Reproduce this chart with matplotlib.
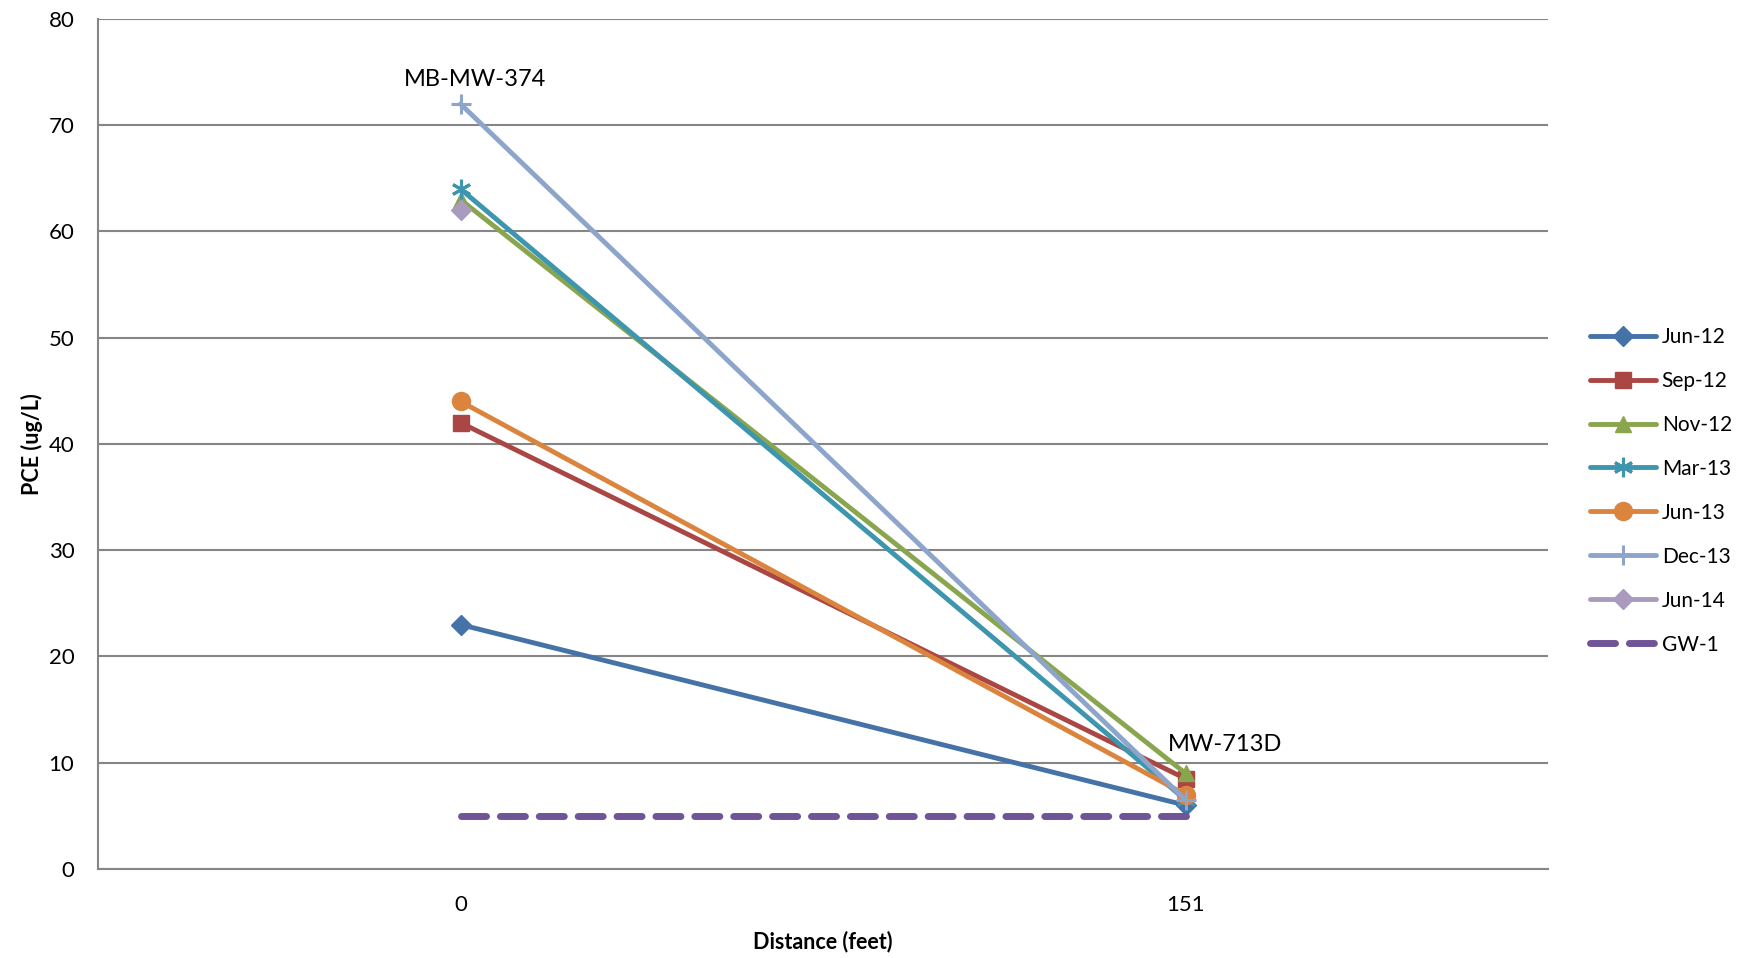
import numpy as np
import matplotlib
matplotlib.use("Agg")
import matplotlib.pyplot as plt

plt.rcParams["font.family"] = ["Lato", "DejaVu Sans"]

#data
distance_labels = ["0", "151"]
series_names = ["Jun-12", "Sep-12", "Nov-12", "Mar-13", "Jun-13", "Dec-13", "Jun-14"]
series_values = [
    [23, 6],
    [42, 8.5],
    [63, 9],
    [64, 6.5],
    [44, 7],
    [72, 6.5],
    [62, np.nan],  # only sampled at MB-MW-374
]
gw1_values = [5, 5]
well_labels = ["MB-MW-374", "MW-713D"]

#styles
colors = ["#4572A7", "#AA4643", "#89A54E", "#3D96AE", "#DB843D", "#8EA5CB", "#A99BBD"]
markers = ["D", "s", "^", (6, 2, 0), "o", "+", "D"]
msizes = [10, 12, 12, 14, 13, 15, 10]
gw_color = "#6F5497"

fig = plt.figure(figsize=(17.43, 9.58), dpi=100)
ax = fig.add_axes([0.0562, 0.0929, 0.8320, 0.8873])

x = np.arange(len(distance_labels))

for name, vals, c, m, ms in zip(series_names, series_values, colors, markers, msizes):
    mew = 2.2 if m in ((6, 2, 0), "+") else 1
    ax.plot(x, vals, color=c, linewidth=3.5, marker=m, markersize=ms,
            markeredgewidth=mew, markerfacecolor=c, markeredgecolor=c,
            solid_capstyle="round", label=name, zorder=3)

ax.plot(x, gw1_values, color=gw_color, linewidth=5, linestyle=(0, (3.6, 2.0)),
        dash_capstyle="round", label="GW-1", zorder=3)

#well labels (Excel data labels)
ax.text(x[0] + 0.02, 74.3, well_labels[0], fontsize=17, ha="center", va="center")
ax.text(x[1] + 0.055, 11.7, well_labels[1], fontsize=17, ha="center", va="center")

ax.set_xlim(-0.5, 1.5)
ax.set_ylim(0, 80)
ax.set_xticks(x)
ax.set_xticklabels(distance_labels)
ax.set_yticks(np.arange(0, 81, 10))
ax.tick_params(axis="y", length=0, labelsize=16, pad=17)
ax.tick_params(axis="x", length=0, labelsize=16, pad=19)
ax.yaxis.grid(True, color="#868686", linewidth=1.5)
ax.set_axisbelow(True)
for s in ["top", "right"]:
    ax.spines[s].set_visible(False)
for s in ["left", "bottom"]:
    ax.spines[s].set_color("#868686")
    ax.spines[s].set_linewidth(1.5)

ax.set_xlabel("Distance (feet)", fontsize=15.5, fontweight="bold", labelpad=11)
ax.set_ylabel("PCE (ug/L)", fontsize=15.5, fontweight="bold", labelpad=4)

leg = ax.legend(loc="center left", bbox_to_anchor=(1.023, 0.445), frameon=False,
                borderaxespad=0, fontsize=15, handlelength=3.2, handletextpad=0.25,
                labelspacing=1.15)

fig.savefig("out.png", dpi=100)
